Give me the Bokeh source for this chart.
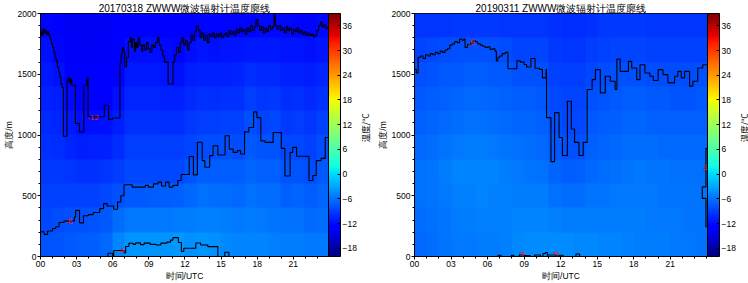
import math
import numpy as np
from bokeh.plotting import figure
from bokeh.layouts import row
from bokeh.models import LinearColorMapper, ColorBar, FixedTicker, Label, Range1d
from bokeh.core.properties import value
from bokeh.embed import file_html
from bokeh.resources import INLINE

# ---------------- data ----------------
hours = list(range(24))
heights = [100, 300, 500, 700, 900, 1100, 1300, 1500, 1700, 1900]
colorbar_ticks = [-18, -12, -6, 0, 6, 12, 18, 24, 30, 36]
x_ticks = [0, 3, 6, 9, 12, 15, 18, 21]
x_tick_labels = ["00", "03", "06", "09", "12", "15", "18", "21"]
y_ticks = [0, 500, 1000, 1500, 2000]

left_title = "20170318 ZWWW微波辐射计温度廓线"
right_title = "20190311 ZWWW微波辐射计温度廓线"
colorbar_label = "温度/°C"

# temperature (°C), rows = heights (bottom first), columns = hours
left_t100 = [-7.76, -7.59, -7.33, -7.18, -6.92, -6.48, -4.8, -4.0, -3.95, -4.0, -3.9, -3.8, -4.2, -4.0, -4.1, -4.62, -4.81, -4.82, -4.95, -5.12, -5.38, -5.45, -5.7, -5.61]
left_t300 = [-8.26, -8.17, -8.0, -7.93, -7.75, -7.43, -6.4, -5.68, -5.64, -5.6, -5.56, -5.39, -5.35, -5.07, -5.14, -5.47, -5.64, -5.45, -5.64, -5.76, -6.15, -6.15, -6.49, -6.22]
left_t500 = [-8.74, -8.74, -8.8, -8.87, -8.71, -8.43, -8.0, -7.37, -7.33, -7.2, -7.24, -7.02, -6.53, -6.13, -6.2, -6.31, -6.47, -6.09, -6.33, -6.4, -6.92, -6.85, -7.29, -6.83]
left_t700 = [-9.23, -9.31, -9.6, -9.83, -9.72, -9.51, -8.94, -8.44, -8.42, -8.35, -8.4, -8.33, -7.71, -7.2, -7.27, -7.16, -7.3, -6.73, -7.03, -7.04, -7.69, -7.56, -8.07, -7.45]
left_t900 = [-9.71, -9.87, -10.4, -10.8, -10.73, -10.59, -9.88, -9.14, -9.11, -9.06, -9.14, -9.14, -8.59, -8.2, -8.2, -8.0, -8.12, -7.36, -7.72, -7.68, -8.44, -8.29, -8.77, -8.08]
left_t1100 = [-10.2, -10.44, -11.2, -11.76, -11.75, -11.68, -10.82, -9.83, -9.81, -9.77, -9.87, -9.96, -9.39, -9.02, -9.03, -8.86, -8.93, -8.0, -8.53, -8.44, -9.17, -9.07, -9.46, -8.87]
left_t1300 = [-10.69, -11.01, -12.0, -12.6, -12.6, -12.5, -11.76, -10.53, -10.5, -10.48, -10.61, -10.78, -10.18, -9.84, -9.86, -9.72, -9.74, -9.04, -9.42, -9.33, -9.91, -9.85, -10.16, -9.66]
left_t1500 = [-11.17, -11.57, -12.8, -13.4, -13.4, -13.3, -12.4, -11.23, -11.2, -11.19, -11.34, -11.59, -10.97, -10.65, -10.68, -10.58, -10.55, -10.08, -10.31, -10.22, -10.64, -10.63, -10.86, -10.46]
left_t1700 = [-11.66, -12.25, -13.6, -13.8, -13.8, -13.7, -13.0, -11.93, -11.9, -11.89, -12.05, -12.3, -11.76, -11.47, -11.5, -11.44, -11.35, -11.12, -11.2, -11.11, -11.38, -11.41, -11.55, -11.25]
left_t1900 = [-12.3, -13.25, -14.0, -14.0, -14.0, -14.0, -13.5, -12.5, -12.5, -12.5, -12.6, -12.9, -12.4, -12.3, -12.3, -12.3, -12.2, -12.2, -12.1, -12.0, -12.1, -12.2, -12.25, -12.0]

right_t100 = [-6.43, -6.23, -5.91, -5.69, -5.57, -5.4, -5.26, -5.04, -4.66, -4.43, -4.37, -4.4, -4.54, -4.6, -4.7, -4.83, -4.97, -5.11, -5.27, -5.37, -5.47, -5.57, -5.66, -5.74]
right_t300 = [-6.29, -6.09, -5.74, -5.46, -5.31, -5.2, -5.17, -5.13, -4.97, -4.89, -4.91, -5.2, -5.43, -5.4, -5.3, -5.29, -5.31, -5.34, -5.41, -5.51, -5.61, -5.71, -5.77, -5.83]
right_t500 = [-6.14, -5.94, -5.57, -5.23, -5.06, -5.0, -5.09, -5.21, -5.29, -5.34, -5.46, -6.0, -6.31, -6.2, -5.9, -5.74, -5.66, -5.57, -5.56, -5.66, -5.76, -5.86, -5.89, -5.91]
right_t700 = [-6.0, -5.8, -5.4, -5.0, -4.8, -4.8, -5.0, -5.3, -5.6, -5.8, -6.0, -6.8, -7.2, -7.0, -6.5, -6.2, -6.0, -5.8, -5.7, -5.8, -5.9, -6.0, -6.0, -6.0]
right_t900 = [-6.48, -6.27, -5.94, -5.59, -5.4, -5.4, -5.59, -5.86, -6.16, -6.3, -6.47, -7.4, -7.84, -7.8, -6.93, -6.68, -6.5, -6.28, -6.19, -6.36, -6.43, -6.53, -6.54, -6.49]
right_t1100 = [-6.95, -6.74, -6.47, -6.18, -6.01, -6.01, -6.18, -6.43, -6.72, -6.8, -6.94, -8.0, -8.29, -8.27, -7.36, -7.15, -7.0, -6.77, -6.69, -6.92, -6.97, -7.07, -7.08, -6.98]
right_t1300 = [-7.43, -7.2, -7.01, -6.76, -6.61, -6.61, -6.76, -6.99, -7.27, -7.3, -7.41, -8.44, -8.7, -8.68, -7.79, -7.63, -7.5, -7.25, -7.19, -7.49, -7.5, -7.6, -7.62, -7.46]
right_t1500 = [-7.9, -7.67, -7.54, -7.35, -7.22, -7.22, -7.35, -7.55, -7.83, -7.8, -7.88, -8.89, -9.1, -9.1, -8.33, -8.15, -8.0, -7.86, -7.93, -8.06, -8.04, -8.11, -8.13, -7.95]
right_t1700 = [-8.7, -8.33, -8.18, -7.94, -7.82, -7.82, -7.94, -8.24, -8.63, -8.57, -8.67, -9.33, -9.5, -9.5, -8.99, -8.75, -8.68, -8.63, -8.63, -8.82, -8.78, -8.76, -8.78, -8.72]
right_t1900 = [-9.57, -9.44, -9.4, -9.3, -9.17, -9.17, -9.3, -9.42, -9.5, -9.5, -9.5, -9.78, -9.9, -9.9, -9.67, -9.35, -9.38, -9.38, -9.39, -9.44, -9.45, -9.45, -9.45, -9.42]

# contour lines (step-after: hour where a level starts, height in m)
left_c12_t = [0.0, 0.1, 0.2, 0.3, 0.4, 0.5, 0.6, 0.7, 0.8, 0.9, 1.0, 1.1, 1.2, 1.3, 1.4, 1.5, 1.6, 1.7, 1.8, 1.9, 2.2, 2.3, 2.4, 2.5, 2.6, 2.9, 3.24, 3.6, 3.85, 3.95, 5.3, 5.65, 6.0, 6.6, 6.7, 6.8, 6.9, 7.0, 7.15, 7.3, 7.45, 7.55, 7.65, 7.8, 7.9, 8.0, 8.1, 8.25, 8.4, 8.5, 8.65, 8.8, 8.95, 9.1, 9.25, 9.4, 9.55, 9.7, 9.85, 10.0, 10.15, 10.3, 10.6, 11.0, 11.15, 11.3, 11.45, 11.6, 11.75, 11.9, 12.05, 12.2, 12.35, 12.5, 12.65, 12.8, 12.95, 13.1, 13.25, 13.4, 13.55, 13.7, 13.85, 14.0, 14.15, 14.3, 14.45, 14.6, 14.75, 14.9, 15.05, 15.2, 15.35, 15.5, 15.65, 15.8, 15.95, 16.1, 16.25, 16.4, 16.55, 16.7, 16.85, 17.0, 17.15, 17.3, 17.45, 17.6, 17.75, 17.9, 18.05, 18.2, 18.35, 18.5, 18.65, 18.8, 18.95, 19.1, 19.25, 19.4, 19.5, 19.65, 19.8, 19.95, 20.1, 20.25, 20.4, 20.55, 20.7, 20.85, 21.0, 21.15, 21.3, 21.45, 21.6, 21.75, 21.9, 22.05, 22.2, 22.35, 22.5, 22.65, 22.8, 22.95, 23.1, 23.25, 23.4, 23.55, 23.7, 23.97]
left_c12_m = [1850, 1820, 1870, 1840, 1860, 1830, 1850, 1820, 1790, 1750, 1720, 1680, 1640, 1610, 1560, 1520, 1480, 1420, 1390, 990, 1450, 1470, 1430, 1460, 1410, 1095, 1025, 1410, 1470, 1150, 1245, 1130, 1140, 1590, 1660, 1720, 1690, 1560, 1640, 1770, 1800, 1720, 1790, 1690, 1760, 1720, 1800, 1740, 1690, 1740, 1700, 1760, 1710, 1680, 1740, 1720, 1760, 1800, 1740, 1700, 1650, 1600, 1420, 1600, 1660, 1720, 1680, 1760, 1800, 1740, 1780, 1700, 1760, 1820, 1780, 1850, 1900, 1860, 1800, 1840, 1780, 1820, 1760, 1830, 1810, 1840, 1800, 1830, 1810, 1840, 1800, 1820, 1840, 1810, 1860, 1830, 1850, 1820, 1870, 1840, 1880, 1850, 1870, 1830, 1880, 1850, 1900, 1860, 1890, 1950, 1900, 1860, 1890, 1840, 1880, 1850, 1900, 1870, 1890, 1990, 1900, 1870, 1900, 1860, 1880, 1840, 1890, 1860, 1880, 1830, 1870, 1850, 1880, 1840, 1860, 1830, 1850, 1820, 1840, 1820, 1830, 1810, 1820, 1860, 1900, 1930, 1890, 1910, 1880, 1890]

left_c8_t = [0.0, 0.3, 0.59, 1.0, 1.27, 1.54, 1.94, 2.81, 2.92, 3.24, 3.57, 3.97, 4.38, 4.92, 5.24, 5.54, 6.08, 6.4, 6.67, 6.94, 7.62, 8.7, 8.97, 9.38, 9.78, 10.05, 10.4, 10.68, 11.0, 11.41, 11.68, 12.35, 12.7, 13.03, 13.43, 13.65, 14.05, 14.33, 14.73, 15.33, 15.68, 16.0, 16.35, 16.62, 16.95, 17.3, 17.7, 17.97, 18.3, 18.65, 19.32, 20.0, 20.3, 20.73, 20.95, 21.27, 22.3, 22.62, 22.9, 23.3, 23.65, 23.98]
left_c8_m = [204, 182, 210, 231, 245, 280, 291, 326, 380, 277, 335, 345, 362, 394, 435, 416, 389, 449, 500, 590, 571, 585, 571, 598, 612, 580, 612, 571, 585, 626, 675, 823, 672, 940, 789, 735, 830, 912, 836, 994, 884, 857, 871, 844, 1026, 1062, 1190, 1143, 952, 939, 1020, 890, 663, 857, 898, 825, 626, 667, 789, 808, 980, 980]

left_c4_t = [5.55, 5.6, 6.0, 6.08, 6.94, 7.07, 7.34, 7.7, 7.9, 8.3, 8.6, 9.1, 9.6, 10.0, 10.5, 10.8, 11.0, 11.45, 11.7, 11.9, 12.9, 13.3, 13.9, 14.73, 15.3, 15.65]
left_c4_m = [0, 27, 0, 49, 30, 82, 109, 100, 112, 98, 110, 100, 95, 110, 118, 135, 155, 115, 41, 68, 111, 95, 81, 0, 35, 0]

right_c8_t = [0.0, 0.15, 0.3, 0.5, 0.7, 0.9, 1.1, 1.3, 1.5, 1.7, 1.9, 2.1, 2.3, 2.5, 2.7, 2.9, 3.1, 3.3, 3.5, 3.7, 3.9, 4.05, 4.15, 4.35, 4.6, 4.8, 5.0, 5.2, 5.4, 5.6, 5.8, 6.0, 6.2, 6.4, 6.6, 6.72, 6.85, 7.0, 7.2, 7.45, 7.67, 8.4, 8.7, 9.0, 9.2, 9.55, 9.9, 10.25, 10.5, 10.8, 10.84, 11.2, 11.5, 11.87, 12.14, 12.55, 12.87, 13.14, 13.5, 13.85, 14.17, 14.58, 14.85, 15.25, 15.66, 16.07, 16.47, 16.61, 16.88, 17.56, 17.83, 18.24, 18.51, 18.91, 19.32, 19.6, 20.0, 20.4, 20.8, 21.35, 21.62, 21.9, 22.17, 22.58, 22.85, 23.25, 23.66, 24.05]
right_c8_m = [1540, 1510, 1640, 1650, 1630, 1660, 1650, 1670, 1660, 1680, 1670, 1690, 1680, 1700, 1710, 1740, 1750, 1770, 1760, 1790, 1780, 1790, 1720, 1745, 1755, 1775, 1765, 1750, 1740, 1730, 1720, 1725, 1705, 1710, 1690, 1610, 1640, 1650, 1670, 1680, 1545, 1610, 1600, 1580, 1560, 1630, 1550, 1540, 1470, 1540, 1143, 781, 1184, 980, 831, 1278, 1050, 939, 831, 939, 1374, 1456, 1538, 1347, 1483, 1442, 1374, 1625, 1524, 1606, 1551, 1456, 1578, 1510, 1483, 1448, 1538, 1497, 1429, 1483, 1524, 1470, 1524, 1402, 1442, 1551, 1578, 1578]

right_c4_t = [6.80, 6.85, 7.10, 7.90, 7.95, 8.15, 8.55, 8.60, 9.00, 9.50, 9.80, 9.85, 10.35, 10.50, 10.55, 10.75, 10.90, 11.00, 11.60, 12.20, 13.20, 13.25, 13.55]
right_c4_m = [0, 10, 0, 0, 10, 0, 0, 12, 8, 0, 0, 12, 0, 0, 25, 33, 10, 12, 10, 0, 0, 20, 0]

right_edge_t = [24.3, 23.92, 23.92, 23.62, 23.62, 23.92, 23.92, 24.3]
right_edge_m = [890, 890, 573, 573, 478, 478, 245, 245]

# contour labels: (hour, height, text, angle)
left_labels = [(4.37, 1145, "-12", 0.0), (2.35, 288, "-8", 0.2), (6.67, 46, "-4", 0.0)]
right_labels = [(4.68, 1756, "-8", 0.3), (8.86, 14, "-4", 1.57), (11.65, 14, "-4", 1.57), (23.9, 735, "-4", -1.57)]

# ---------------- styling helpers ----------------
LATIN = "Liberation Sans"
CJK = "Noto Sans CJK SC"


def jet_palette(n=256):
    f = np.linspace(0, 1, n)
    r = np.interp(f, [0, 0.35, 0.66, 0.89, 1], [0, 0, 1, 1, 0.5])
    g = np.interp(f, [0, 0.125, 0.375, 0.64, 0.91, 1], [0, 0, 1, 1, 0, 0])
    b = np.interp(f, [0, 0.11, 0.34, 0.65, 1], [0.5, 1, 1, 0, 0])
    return ["#%02x%02x%02x" % (int(round(255 * ri)), int(round(255 * gi)), int(round(255 * bi)))
            for ri, gi, bi in zip(r, g, b)]


PALETTE = jet_palette()


def make_panel(title, rows, x_end, contours, labels, width, mb_left, mb_right):
    mapper = LinearColorMapper(palette=PALETTE, low=-20, high=39)
    p = figure(width=width, height=283, x_range=Range1d(0, x_end), y_range=Range1d(0, 2000),
               output_backend="svg", toolbar_location=None,
               min_border_left=mb_left, min_border_right=mb_right,
               min_border_top=13, min_border_bottom=25)
    p.grid.visible = False
    p.outline_line_color = "black"
    p.outline_line_alpha = 1
    p.background_fill_color = "white"

    p.title.text = title
    p.title.align = "center"
    p.title.text_font = LATIN
    p.title.text_font_size = "10px"
    p.title.text_font_style = "normal"
    p.title.text_color = "black"
    p.title.standoff = 0

    grid = np.array(rows, dtype=float)
    p.image(image=[grid], x=0, y=0, dw=x_end, dh=2000, color_mapper=mapper)

    for kind, xs, ys in contours:
        if kind == "step":
            p.step(x=xs, y=ys, mode="after", line_color="black", line_width=1.1)
        else:
            p.line(x=xs, y=ys, line_color="black", line_width=1.1)

    for (lx, ly, txt, ang) in labels:
        p.add_layout(Label(x=lx, y=ly, text=txt, angle=ang, text_color="#e0202a",
                           text_font=LATIN, text_font_size="8px",
                           text_align="center", text_baseline="middle"))

    # axes
    p.xaxis.ticker = FixedTicker(ticks=x_ticks, minor_ticks=list(range(0, 25)))
    p.xaxis.major_label_overrides = {t: l for t, l in zip(x_ticks, x_tick_labels)}
    p.yaxis.ticker = FixedTicker(ticks=y_ticks, minor_ticks=list(range(0, 2001, 100)))
    for ax in (p.xaxis[0], p.yaxis[0]):
        ax.axis_line_color = "black"
        ax.major_tick_line_color = "black"
        ax.minor_tick_line_color = "black"
        ax.major_tick_in = 0
        ax.major_tick_out = 3
        ax.minor_tick_in = 0
        ax.minor_tick_out = 2
        ax.major_label_text_font = LATIN
        ax.major_label_text_font_size = "8.5px"
        ax.major_label_text_color = "black"
        ax.major_label_standoff = 1
        ax.axis_label_text_font = LATIN
        ax.axis_label_text_font_size = "8.5px"
        ax.axis_label_text_font_style = "normal"
        ax.axis_label_text_color = "black"
        ax.axis_label_standoff = 1
    p.xaxis.axis_label = "时间/UTC"
    p.yaxis.axis_label = "高度/m"

    cb = ColorBar(color_mapper=mapper, ticker=FixedTicker(ticks=colorbar_ticks),
                  width=12, padding=0, margin=3,
                  major_tick_in=3, major_tick_out=0, major_tick_line_color="black",
                  bar_line_color="black", label_standoff=2,
                  major_label_text_font=LATIN, major_label_text_font_size="8.5px",
                  major_label_text_color="black",
                  border_line_color=None, background_fill_alpha=0)
    p.add_layout(cb, "right")
    return p


def make_side_label(width, x_px):
    s = figure(width=width, height=283, x_range=Range1d(0, width), y_range=Range1d(0, 283),
               output_backend="svg", toolbar_location=None,
               x_axis_location=None, y_axis_location=None,
               min_border_left=0, min_border_right=0, min_border_top=0, min_border_bottom=0)
    s.grid.visible = False
    s.outline_line_color = None
    s.text(x=[x_px], y=[283 - 133], text=[colorbar_label], angle=math.pi / 2,
           text_font=value(CJK), text_font_size=value("8.5px"), text_color="black",
           text_align="center", text_baseline="middle")
    return s


left_rows = [left_t100, left_t300, left_t500, left_t700, left_t900,
             left_t1100, left_t1300, left_t1500, left_t1700, left_t1900]
right_rows = [right_t100, right_t300, right_t500, right_t700, right_t900,
              right_t1100, right_t1300, right_t1500, right_t1700, right_t1900]

p1 = make_panel(left_title, left_rows, 23.92,
                [("step", left_c12_t, left_c12_m), ("step", left_c8_t, left_c8_m),
                 ("step", left_c4_t, left_c4_m)],
                left_labels, 360, 33, 32)
s1 = make_side_label(14, 4.5)
p2 = make_panel(right_title, right_rows, 24.05,
                [("step", right_c8_t, right_c8_m), ("step", right_c4_t, right_c4_m),
                 ("line", right_edge_t, right_edge_m)],
                right_labels, 364, 37, 30)
s2 = make_side_label(10, 5)

layout = row(p1, s1, p2, s2)
open("out.html", "w").write(file_html(layout, INLINE))
